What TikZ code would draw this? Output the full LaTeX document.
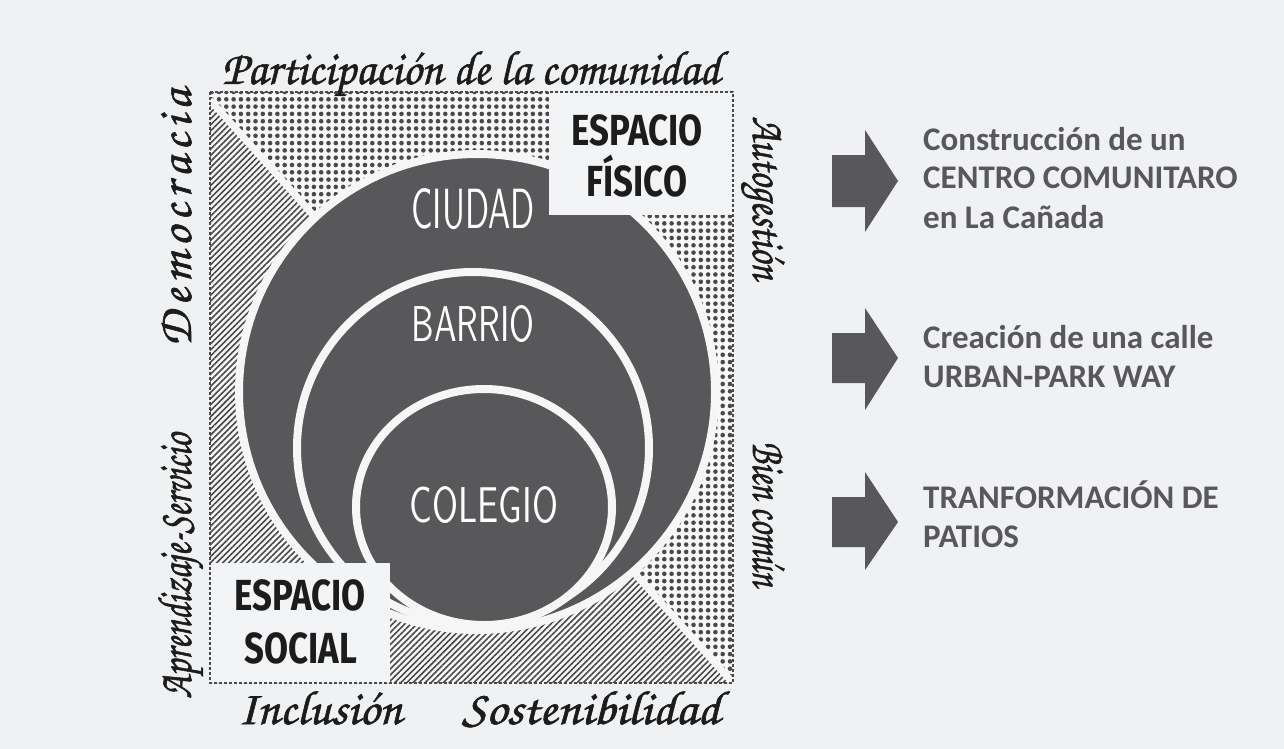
\documentclass[tikz,border=0pt]{standalone}
\usepackage{fontspec}
\usepackage{graphicx}
\usetikzlibrary{patterns.meta}
\newfontfamily\cursivo[FakeBold=1.2]{texgyrechorus-mediumitalic.otf}
\newfontfamily\boldlab{Fira Sans}
\newfontfamily\rightlab{Carlito}
\definecolor{bgcol}{HTML}{EFF1F3}
\definecolor{sqcol}{HTML}{F8F8F8}
\definecolor{darkcol}{HTML}{58585A}
\definecolor{patcol}{HTML}{4A4A4C}
\definecolor{boxcol}{HTML}{F3F4F6}
\definecolor{labcol}{HTML}{1C1C1C}
\definecolor{rgray}{HTML}{58585A}
\definecolor{ringcol}{HTML}{F6F6F6}
\newcommand\scrlabel[2]{\resizebox{#1pt}{\height}{\cursivo\fontsize{48}{48}\selectfont #2}}
\begin{document}
\begin{tikzpicture}[x=1pt,y=-1pt,
  ring/.style={draw=ringcol, line width=8pt, fill=darkcol},
  scriptlab/.style={inner sep=0pt, text=labcol, anchor=base},
  circlab/.style={inner sep=0pt, text=white, font=\sffamily},
  spacelab/.style={inner sep=0pt, text=labcol, anchor=base, font=\boldlab\bfseries\fontsize{43.5}{44}\selectfont},
  rtext/.style={inner sep=0pt, text=rgray, anchor=base west, font=\rightlab\bfseries\fontsize{33}{40}\selectfont},
  blockarrow/.style={fill=darkcol},
  spacebox/.style={fill=boxcol},
  dotfill/.style={pattern={Dots[radius=2.3pt,distance=7.3pt]}, pattern color=patcol},
  hatchfill/.style={pattern={Lines[angle=45,distance=4.3pt,line width=1.6pt]}, pattern color=patcol},
  borderline/.style={draw=patcol, line width=1.6pt, dash pattern=on 3pt off 2pt}
]
\useasboundingbox (0,0) rectangle (1284,749);
\fill[bgcol] (0,0) rectangle (1284,749);

% square and patterns
\coordinate (tl) at (210,92);
\coordinate (tr) at (733,92);
\coordinate (br) at (733,683);
\coordinate (bl) at (210,683);
\coordinate (dg) at (210,100);
\fill[sqcol] (tl) rectangle (br);
\fill[dotfill] (tl) -- (tr) -- (br) -- (dg) -- cycle;
\fill[hatchfill] (dg) -- (br) -- (bl) -- cycle;
\draw[ringcol, line width=7pt] (dg) -- (br);

% circles
\draw[ring] (477,392) circle[radius=238pt];
\draw[ring] (473,448) circle[radius=176pt];
\draw[ring] (484,507) ellipse[x radius=128pt, y radius=118pt];

% boxes
\fill[spacebox] (549,92) rectangle (733,215);
\fill[spacebox] (210,563) rectangle (390,683);
\draw[borderline] (tl) rectangle (br);

% circle labels
\node[circlab] (ciu) at (473,209) {\resizebox{123pt}{40pt}{CIUDAD}};
\node[circlab] (bar) at (473,324) {\resizebox{123pt}{36pt}{BARRIO}};
\node[circlab] (col) at (484,505) {\resizebox{148pt}{36pt}{COLEGIO}};

% space labels
\node[spacelab] (ef1) at (637,145) {\scalebox{0.8}[1]{ESPACIO}};
\node[spacelab] (ef2) at (637,196) {\scalebox{0.8}[1]{FÍSICO}};
\node[spacelab] (es1) at (300,610) {\scalebox{0.8}[1]{ESPACIO}};
\node[spacelab] (es2) at (301,663) {\scalebox{0.8}[1]{SOCIAL}};

% script labels
\node[scriptlab] (tp) at (471,84) {\scrlabel{498}{Participación de la comunidad}};
\node[scriptlab] (inc) at (320,724) {\scrlabel{164}{Inclusión}};
\node[scriptlab] (sos) at (591,724) {\scrlabel{258}{Sostenibilidad}};
\node[scriptlab, rotate=90] (dem) at (191,218) {\resizebox{257pt}{\height}{\cursivo\fontsize{48}{48}\selectfont\addfontfeature{LetterSpace=12}Democracia}};
\node[scriptlab, rotate=90] (aps) at (191,566) {\scrlabel{265}{Aprendizaje-Servicio}};
\node[scriptlab, rotate=-90] (aut) at (753,198) {\scrlabel{163}{Autogestión}};
\node[scriptlab, rotate=-90] (bien) at (753,514) {\scrlabel{145}{Bien común}};

% arrows
\fill[blockarrow] (832,155) -- (865,155) -- (865,130) -- (898,181) -- (865,232) -- (865,207) -- (832,207) -- cycle;
\fill[blockarrow] (832,333) -- (865,333) -- (865,308) -- (898,358) -- (865,410) -- (865,383) -- (832,383) -- cycle;
\fill[blockarrow] (832,497) -- (865,497) -- (865,472) -- (898,522) -- (865,570) -- (865,547) -- (832,547) -- cycle;

% right texts
\node[rtext] (r1a) at (923,150) {Construcción de un};
\node[rtext] (r1b) at (923,188) {CENTRO COMUNITARO};
\node[rtext] (r1c) at (923,228) {en La Cañada};
\node[rtext] (r2a) at (923,348) {Creación de una calle};
\node[rtext] (r2b) at (923,387) {URBAN-PARK WAY};
\node[rtext] (r3a) at (923,508) {TRANFORMACIÓN DE};
\node[rtext] (r3b) at (923,547) {PATIOS};
\end{tikzpicture}
\end{document}
